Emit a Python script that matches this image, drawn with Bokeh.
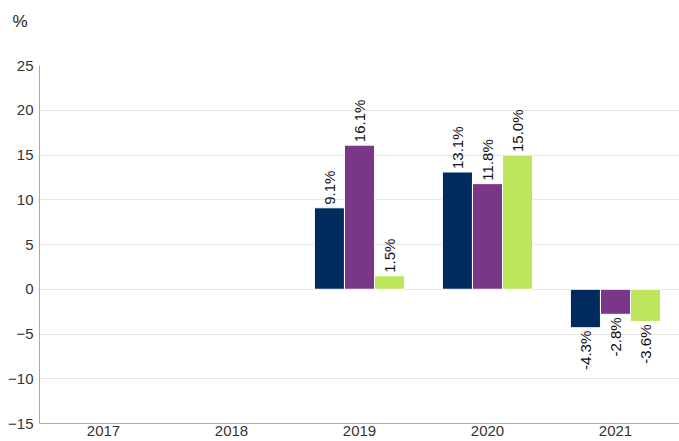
from bokeh.plotting import figure
from bokeh.models import ColumnDataSource, FixedTicker, Title
from bokeh.transform import dodge
from bokeh.embed import file_html
from bokeh.resources import INLINE
from bokeh.core.properties import value
import math

years = ["2017", "2018", "2019", "2020", "2021"]
series_1 = [None, None, 9.1, 13.1, -4.3]
series_2 = [None, None, 16.1, 11.8, -2.8]
series_3 = [None, None, 1.5, 15.0, -3.6]
y_ticks = [-15, -10, -5, 0, 5, 10, 15, 20, 25]

colors = ["#012a5e", "#7a3787", "#bde65c"]
offsets = [-0.235, 0.0, 0.235]
FONT = "Liberation Sans"

p = figure(x_range=years, y_range=(-15, 25), width=679, height=441,
           output_backend="svg", toolbar_location=None,
           min_border_left=39, min_border_right=0, min_border_top=65,
           min_border_bottom=18)
p.outline_line_color = None
p.background_fill_color = "white"
p.border_fill_color = "white"

for vals, col, off in zip([series_1, series_2, series_3], colors, offsets):
    xs = [y for y, v in zip(years, vals) if v is not None]
    vs = [v for v in vals if v is not None]
    src = ColumnDataSource(dict(x=xs, top=vs))
    p.vbar(x=dodge("x", off, range=p.x_range), top="top", bottom=0, width=0.235,
           source=src, fill_color=col, line_color="white", line_width=1)
    pos = [(x, v) for x, v in zip(xs, vs) if v >= 0]
    neg = [(x, v) for x, v in zip(xs, vs) if v < 0]
    for group, align, yoff in ((pos, "left", -3), (neg, "right", 3)):
        if not group:
            continue
        tsrc = ColumnDataSource(dict(x=[g[0] for g in group], y=[g[1] for g in group],
                                     t=[f"{g[1]:.1f}%" for g in group]))
        p.text(x=dodge("x", off, range=p.x_range), y="y", text="t", source=tsrc,
               angle=math.pi / 2, text_align=align, text_baseline="middle",
               x_offset=0, y_offset=yoff, text_font=value(FONT),
               text_font_size="15px", text_color="#111111")

p.yaxis.ticker = FixedTicker(ticks=y_ticks)
for ax in (p.xaxis, p.yaxis):
    ax.major_tick_line_color = None
    ax.minor_tick_line_color = None
    ax.major_tick_out = 0
    ax.major_tick_in = 0
    ax.axis_line_color = "#aaaaaa"
    ax.major_label_text_font = FONT
    ax.major_label_text_font_size = "15px"
    ax.major_label_text_color = "#333333"
p.yaxis.major_label_standoff = 6
p.xaxis.major_label_standoff = 2
p.xgrid.grid_line_color = None
p.ygrid.grid_line_color = "#e6e6e6"
p.ygrid.ticker = FixedTicker(ticks=y_ticks)

t = Title(text="%", align="left", vertical_align="bottom",
          text_font=FONT, text_font_size="17px", text_font_style="normal",
          text_color="#222222")
try:
    t.padding = dict(left=0, right=0, top=9, bottom=35)
    t.standoff = 0
    t.offset = -27
except Exception:
    t.standoff = 44
    t.offset = -27
p.add_layout(t, "above")

open("out.html", "w").write(file_html(p, INLINE))
